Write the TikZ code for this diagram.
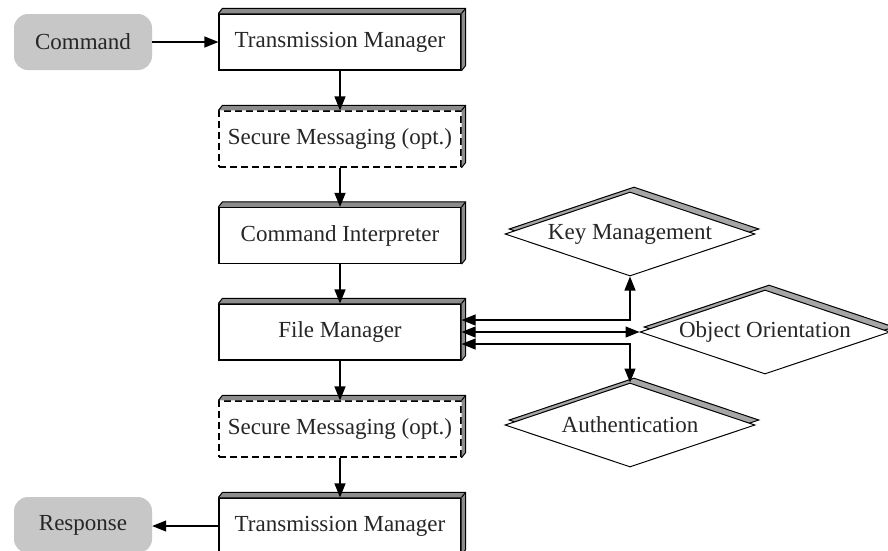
\documentclass[tikz,border=0pt]{standalone}
\usepackage{fontspec}
\setmainfont{Liberation Serif}
\usetikzlibrary{arrows.meta,shapes.geometric,calc}
\newcommand\mkextrude[1]{%
  \fill[black!45] (#1.north west) -- ++(4,-5) -- ($(#1.north east)+(4,-5)$) -- ($(#1.south east)+(4,-5)$) -- (#1.south east) -- (#1.north east) -- cycle;
  \draw[line width=1pt] (#1.north west) -- ++(4,-5) -- ($(#1.north east)+(4,-5)$) -- ($(#1.south east)+(4,-5)$) -- (#1.south east);
  \draw[line width=1pt] (#1.north east) -- ++(4,-5);}
\begin{document}
\begin{tikzpicture}[x=1pt,y=-1pt,
  lbl/.style={font=\fontsize{23}{26}\selectfont, text=black!85},
  mbox/.style={lbl, draw, line width=1.2pt, fill=white, minimum width=242pt, minimum height=56pt, inner sep=0pt},
  dbox/.style={mbox, dash pattern=on 7pt off 4pt},
  term/.style={lbl, fill=black!22, rounded corners=14pt, minimum width=138pt, minimum height=56pt, inner sep=0pt},
  dia/.style={lbl, diamond, shape aspect=3, draw, line width=1pt, fill=white, minimum width=250pt, minimum height=84pt, inner sep=0pt},
  diashade/.style={dia, fill=black!35},
  tip/.tip={Triangle[length=14pt,width=11pt]},
  flow/.style={line width=1.2pt, -tip},
  bflow/.style={line width=1.2pt, tip-tip}]
\useasboundingbox (0,0) rectangle (888,550);
\clip (0,0) rectangle (888,550);
\fill[white] (0,0) rectangle (888,550);

% main column
\node[term] (cmd) at (83,42) {Command};
\node[mbox] (tm1) at (340,42) {Transmission Manager};
\node[dbox] (sm1) at (340,139) {Secure Messaging (opt.)};
\node[mbox] (ci) at (340,235.5) {Command Interpreter};
\node[mbox] (fm) at (340,332) {File Manager};
\node[dbox] (sm2) at (340,429) {Secure Messaging (opt.)};
\node[mbox] (tm2) at (340,526) {Transmission Manager};
\node[term] (resp) at (83,525) {Response};
\foreach \n in {tm1,sm1,ci,fm,sm2,tm2} {\mkextrude{\n}}

% diamonds
\coordinate (kmc) at (630,234);
\coordinate (ooc) at (765,332);
\coordinate (auc) at (630,425);
\node[diashade] (kms) at ($(kmc)+(4,-5)$) {};
\node[dia] (km) at (kmc) {Key Management};
\node[diashade] (oos) at ($(ooc)+(4,-5)$) {};
\node[dia] (oo) at (ooc) {Object Orientation};
\node[diashade] (aus) at ($(auc)+(4,-5)$) {};
\node[dia] (au) at (auc) {Authentication};

% connectors
\draw[flow] (cmd.east) -- (tm1.west);
\draw[flow] (tm1.south) -- (sm1.north);
\draw[flow] (sm1.south) -- (ci.north);
\draw[flow] (ci.south) -- (fm.north);
\draw[flow] (fm.south) -- (sm2.north);
\draw[flow] (sm2.south) -- (tm2.north);
\draw[flow] (tm2.west) -- (resp.east |- tm2.west);
\draw[bflow] ([yshift=12pt]fm.east) -| (km.south);
\draw[bflow] (fm.east) -- (oo.west);
\draw[bflow] ([yshift=-12pt]fm.east) -| (au.north);
\end{tikzpicture}
\end{document}
